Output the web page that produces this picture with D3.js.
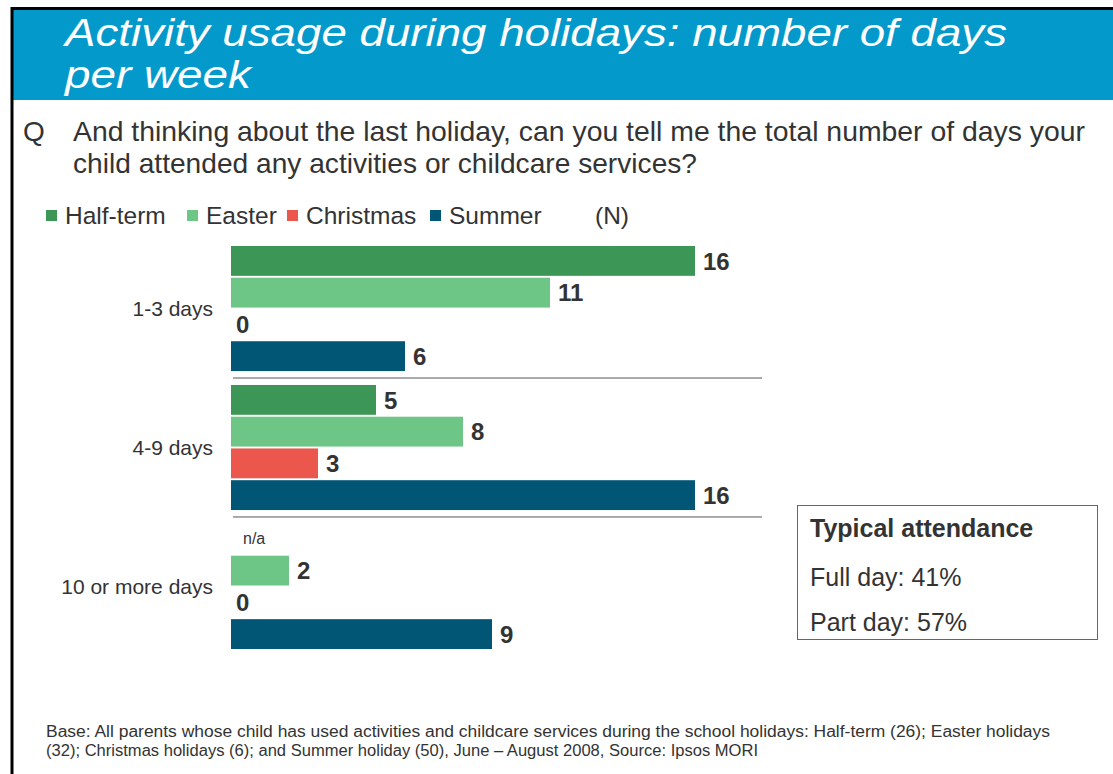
<!DOCTYPE html>
<html><head><meta charset="utf-8">
<script src="https://cdn.jsdelivr.net/npm/d3@7"></script>
<style>body{margin:0;background:#fff}svg{display:block;font-family:Arial,"Liberation Sans",sans-serif}</style>
</head><body>
<svg id="c" width="1113" height="774"></svg>
<script>
const categories = ["1-3 days", "4-9 days", "10 or more days"];
const seriesNames = ["Half-term", "Easter", "Christmas", "Summer"];
const seriesColors = ["#3c9757", "#6dc686", "#eb574c", "#015676"];
const halfTerm = [16, 5, null];
const easter = [11, 8, 2];
const christmas = [0, 3, 0];
const summer = [6, 16, 9];
const values = [halfTerm, easter, christmas, summer];
const titleLines = ["Activity usage during holidays: number of days", "per week"];
const questionLines = ["And thinking about the last holiday, can you tell me the total number of days your", "child attended any activities or childcare services?"];
const boxLines = ["Typical attendance", "Full day: 41%", "Part day: 57%"];
const footerLines = ["Base: All parents whose child has used activities and childcare services during the school holidays: Half-term (26); Easter holidays", "(32); Christmas holidays (6); and Summer holiday (50), June \u2013 August 2008, Source: Ipsos MORI"];

const svg = d3.select("#c");
const txt = "#333333";

// frame and header
svg.append("rect").attr("x", 13).attr("y", 10).attr("width", 1100).attr("height", 90).attr("fill", "#0399cb");
svg.append("line").attr("x1", 11).attr("x2", 1113).attr("y1", 8.5).attr("y2", 8.5).attr("stroke", "#000").attr("stroke-width", 3);
svg.append("line").attr("x1", 12).attr("x2", 12).attr("y1", 7).attr("y2", 774).attr("stroke", "#000").attr("stroke-width", 3);

const titleBase = [46, 88];
const titleLen = [942, 186];
titleLines.forEach((t, i) => {
  svg.append("text").attr("x", 65).attr("y", titleBase[i]).attr("fill", "#fff")
    .attr("font-size", 39).attr("font-style", "italic")
    .attr("textLength", titleLen[i]).attr("lengthAdjust", "spacingAndGlyphs").text(t);
});

// question
svg.append("text").attr("x", 23).attr("y", 141).attr("fill", txt).attr("font-size", 28).text("Q");
const qLen = [1012, 624];
questionLines.forEach((t, i) => {
  svg.append("text").attr("x", 73).attr("y", 141 + i * 32).attr("fill", txt).attr("font-size", 28)
    .attr("textLength", qLen[i]).attr("lengthAdjust", "spacingAndGlyphs").text(t);
});

// legend
const legendX = [46, 187, 287, 430];
seriesNames.forEach((s, i) => {
  svg.append("rect").attr("x", legendX[i]).attr("y", 210).attr("width", 11).attr("height", 11).attr("fill", seriesColors[i]);
  svg.append("text").attr("x", legendX[i] + 19).attr("y", 224).attr("fill", txt).attr("font-size", 24.5).text(s);
});
svg.append("text").attr("x", 595).attr("y", 224).attr("fill", txt).attr("font-size", 24.5).text("(N)");

// scales
const x = d3.scaleLinear().domain([0, 16]).range([231, 695]);
const yGroup = d3.scaleBand().domain(categories).range([246, 649]).paddingInner(0.1).paddingOuter(0);
const ySeries = d3.scaleBand().domain(seriesNames).range([0, yGroup.bandwidth()]).paddingInner(0.06);

const groups = svg.append("g").selectAll("g").data(categories).join("g")
  .attr("transform", d => `translate(0,${yGroup(d)})`);

groups.each(function(cat, ci) {
  const g = d3.select(this);
  seriesNames.forEach((s, si) => {
    const v = values[si][ci];
    const y0 = ySeries(s);
    const ym = y0 + ySeries.bandwidth() / 2;
    if (v === null) {
      g.append("text").attr("x", 243).attr("y", ym).attr("dy", "0.35em").attr("fill", txt).attr("font-size", 16).text("n/a");
      return;
    }
    if (v > 0) {
      g.append("rect").attr("x", x(0)).attr("y", y0).attr("width", x(v) - x(0)).attr("height", ySeries.bandwidth()).attr("fill", seriesColors[si]);
    }
    g.append("text").attr("x", x(v) + (v > 0 ? 8 : 5)).attr("y", ym).attr("dy", "0.36em")
      .attr("fill", txt).attr("font-size", 24).attr("font-weight", "bold").text(v);
  });
  g.append("text").attr("x", 213).attr("y", yGroup.bandwidth() / 2).attr("dy", "0.35em")
    .attr("text-anchor", "end").attr("fill", txt).attr("font-size", 21).text(cat);
});

// separators
categories.slice(0, -1).forEach(c => {
  const yy = yGroup(c) + yGroup.bandwidth() + yGroup.step() * yGroup.paddingInner() / 2;
  svg.append("line").attr("x1", 233).attr("x2", 762).attr("y1", yy).attr("y2", yy).attr("stroke", "#555").attr("stroke-width", 1);
});

// box
svg.append("rect").attr("x", 797.5).attr("y", 505.5).attr("width", 300).attr("height", 134).attr("fill", "none").attr("stroke", "#666");
const boxY = [537, 586, 631];
boxLines.forEach((t, i) => {
  svg.append("text").attr("x", 810).attr("y", boxY[i]).attr("fill", txt).attr("font-size", 25)
    .attr("font-weight", i === 0 ? "bold" : "normal").text(t);
});

// footer
const fLen = [1004, 712];
footerLines.forEach((t, i) => {
  svg.append("text").attr("x", 46).attr("y", 737 + i * 19).attr("fill", txt).attr("font-size", 16)
    .attr("textLength", fLen[i]).attr("lengthAdjust", "spacingAndGlyphs").text(t);
});
</script>
</body></html>
